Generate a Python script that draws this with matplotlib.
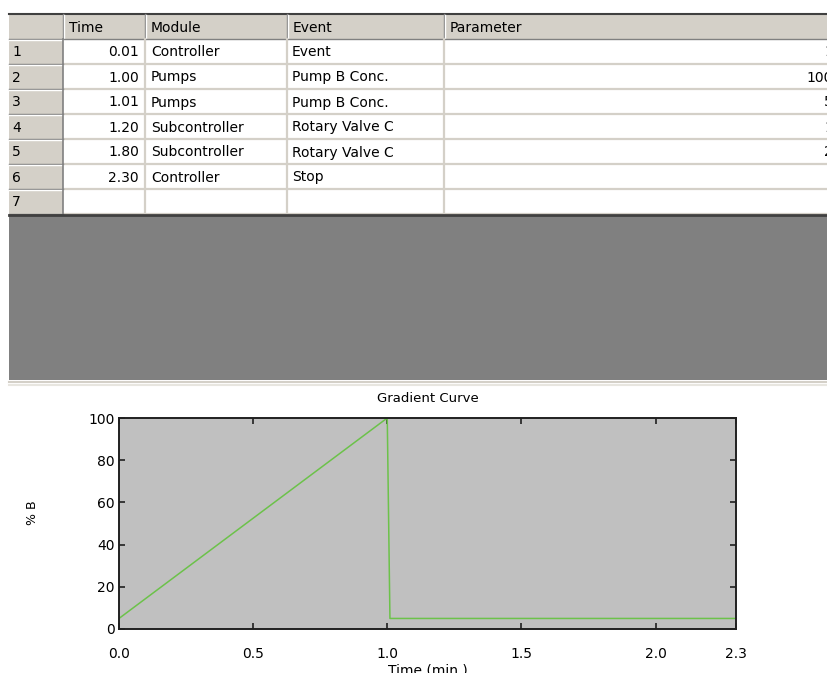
import matplotlib
matplotlib.use("Agg")
import matplotlib.pyplot as plt
from matplotlib.patches import Rectangle

# table content
headers = ["Time", "Module", "Event", "Parameter"]
times = ["0.01", "1.00", "1.01", "1.20", "1.80", "2.30", ""]
modules = ["Controller", "Pumps", "Pumps", "Subcontroller", "Subcontroller", "Controller", ""]
events = ["Event", "Pump B Conc.", "Pump B Conc.", "Rotary Valve C", "Rotary Valve C", "Stop", ""]
params = ["1", "100", "5", "1", "2", "", ""]

# gradient curve
grad_time = [0.0, 1.00, 1.01, 2.30]
grad_b = [5, 100, 5, 5]
xticks = [0.0, 0.5, 1.0, 1.5, 2.0, 2.3]
yticks = [0, 20, 40, 60, 80, 100]

W, H = 828, 673
plt.rcParams['font.family'] = ['DejaVu Sans']
fig = plt.figure(figsize=(W / 100, H / 100), dpi=100)
fig.patch.set_facecolor("white")

# pixel canvas for the table part of the screenshot
bg = fig.add_axes([0, 0, 1, 1])
bg.set_xlim(0, W)
bg.set_ylim(H, 0)
bg.axis("off")

face = "#D4D0C8"
col_edges = [9, 63, 145, 287, 444, 840]
top, head_h, row_h = 14, 25, 25

# header strip and row-number column
bg.add_patch(Rectangle((9, top), W, head_h, color=face, lw=0))
n = len(times)
bg.add_patch(Rectangle((9, top + head_h), col_edges[1] - 9, n * row_h, color=face, lw=0))
bg.plot([9, W], [top, top], color="#404040", lw=1.5)

# header cells
for i, h in enumerate(headers):
    x0 = col_edges[i + 1]
    bg.plot([x0, x0], [top, top + head_h], color="#808080", lw=1)
    bg.plot([x0 + 1.5, x0 + 1.5], [top + 1, top + head_h - 1], color="white", lw=1)
    bg.text(x0 + 6, top + head_h / 2 + 1, h, fontsize=10, va="center", ha="left", color="black")
bg.plot([9, W], [top + head_h, top + head_h], color="#808080", lw=1)

# row lines
for r in range(n):
    y0 = top + head_h + r * row_h
    y1 = y0 + row_h
    bg.plot([col_edges[1], W], [y1, y1], color=face, lw=1.6)
    bg.plot([9, col_edges[1]], [y1 - 0.5, y1 - 0.5], color="#808080", lw=1)
    bg.plot([9, col_edges[1]], [y0 + 1, y0 + 1], color="white", lw=1)
    yc = y0 + row_h / 2 + 1
    bg.text(12, yc, str(r + 1), fontsize=10, va="center", ha="left")
    bg.text(col_edges[2] - 6, yc, times[r], fontsize=10, va="center", ha="right")
    bg.text(col_edges[2] + 6, yc, modules[r], fontsize=10, va="center", ha="left")
    bg.text(col_edges[3] + 5, yc, events[r], fontsize=10, va="center", ha="left")
    bg.text(833, yc, params[r], fontsize=10, va="center", ha="right")
for x0 in col_edges[2:5]:
    bg.plot([x0, x0], [top + head_h, top + head_h + n * row_h], color=face, lw=1.6)
bg.plot([col_edges[1], col_edges[1]], [top + head_h, top + head_h + n * row_h], color="#808080", lw=1.2)

# dark grey empty area below table
tb = top + head_h + n * row_h
bg.plot([9, W], [tb + 1, tb + 1], color="#404040", lw=2)
bg.add_patch(Rectangle((9, tb + 2), W, 380 - tb - 2, color="#808080", lw=0))
bg.plot([9, W], [382, 382], color=face, lw=1.5)
bg.plot([9, W], [385, 385], color="#E8E6E0", lw=1.5)

# gradient chart
left, right, ptop, pbot = 119, 736, 418, 629
ax = fig.add_axes([left / W, 1 - pbot / H, (right - left) / W, (pbot - ptop) / H])
ax.set_facecolor("#C0C0C0")
ax.plot(grad_time, grad_b, color="#6CC24A", lw=1.1)
ax.set_xlim(0, 2.3)
ax.set_ylim(0, 100)
ax.set_xticks(xticks)
ax.set_xticklabels(["%.1f" % t for t in xticks])
ax.set_yticks(yticks)
ax.tick_params(direction="in", top=True, right=True, length=4.5, width=1.2,
               labelsize=10, color="#202020")
ax.tick_params(axis="x", pad=13)
ax.tick_params(axis="y", pad=3)
for s in ax.spines.values():
    s.set_linewidth(1.4)
    s.set_color("#202020")

fig.text((left + right) / 2 / W, 1 - 398 / H, "Gradient Curve", fontsize=9.5,
         ha="center", va="center")
fig.text((left + right) / 2 / W, 1 - 670 / H, "Time (min.)", fontsize=10,
         ha="center", va="center")
fig.text(33 / W, 1 - 513 / H, "% B", fontsize=9, rotation=90, ha="center", va="center")

fig.savefig("out.png", dpi=100)
